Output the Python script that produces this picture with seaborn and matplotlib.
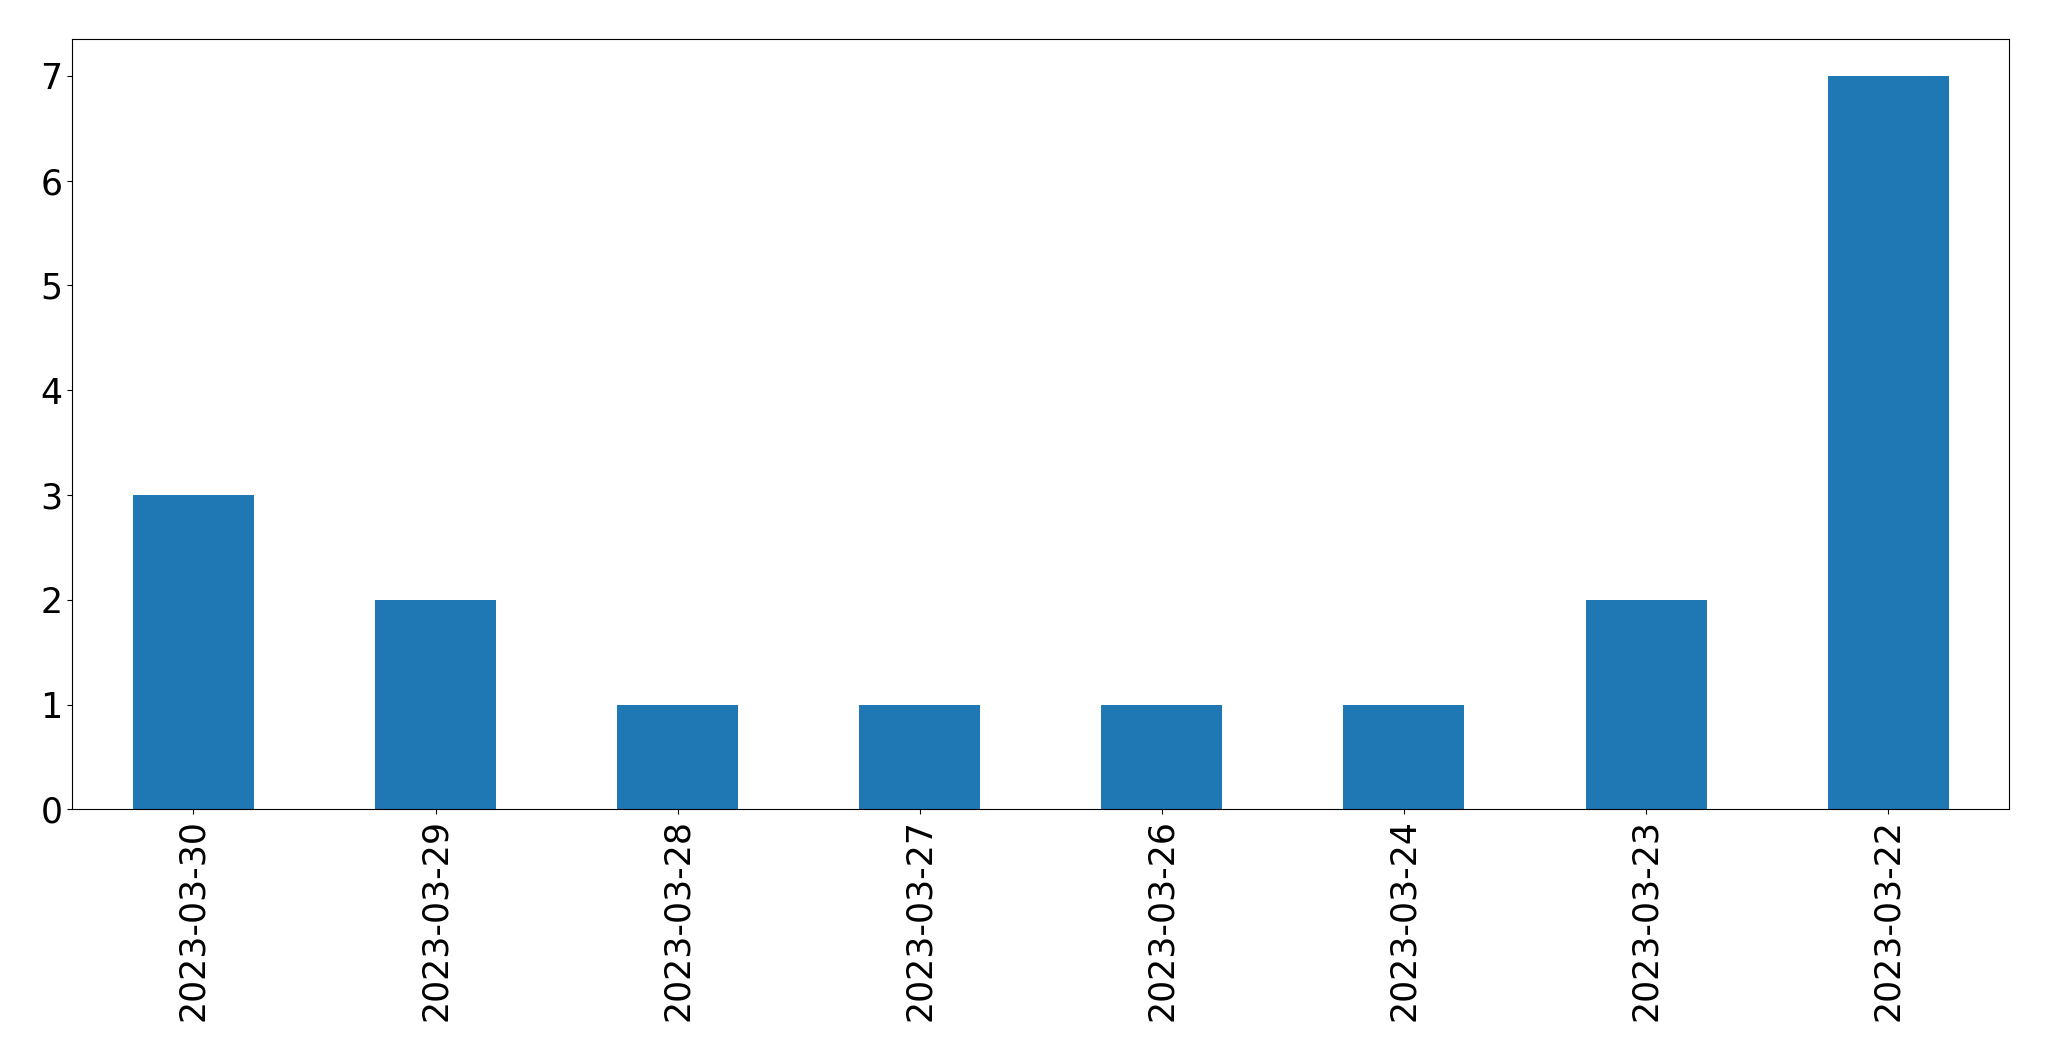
import pandas as pd
import matplotlib
matplotlib.use('Agg')
import matplotlib.pyplot as plt
import seaborn as sns

# Data
dates = ['2023-03-30', '2023-03-29', '2023-03-28', '2023-03-27',
         '2023-03-26', '2023-03-24', '2023-03-23', '2023-03-22']
counts = [3, 2, 1, 1, 1, 1, 2, 7]

df = pd.DataFrame({'date': dates, 'count': counts})

sns.set_style('ticks')
plt.rcParams['font.family'] = ['DejaVu Sans']
plt.rcParams['text.color'] = 'black'
plt.rcParams['xtick.color'] = 'black'
plt.rcParams['ytick.color'] = 'black'

fig = plt.figure(figsize=(20.49, 10.61), dpi=100)
ax = fig.add_axes([0.0353, 0.2372, 0.9453, 0.7258])

sns.barplot(
    data=df,
    x='date',
    y='count',
    color='#1f77b4',
    saturation=1,
    width=0.5,
    linewidth=0,
    ax=ax
)

ax.set_xlim(-0.5, len(dates) - 0.5)
ax.set_ylim(0, max(counts) * 1.05)
ax.set_xlabel('')
ax.set_ylabel('')

ax.tick_params(axis='both', labelsize=25, length=3.5, width=0.8,
               colors='black', labelcolor='black')
plt.setp(ax.get_xticklabels(), rotation=90)

for spine in ax.spines.values():
    spine.set_visible(True)
    spine.set_color('black')
    spine.set_linewidth(0.8)

fig.savefig('out.png', dpi=100)
